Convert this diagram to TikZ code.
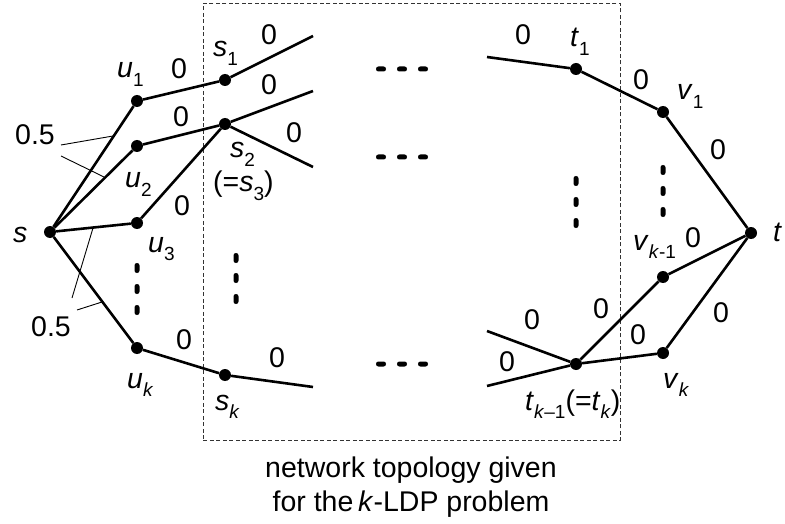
\documentclass[tikz,border=0pt]{standalone}
\usepackage{fontspec}
\setmainfont{Liberation Sans}
\newcommand\subl[1]{\raisebox{-8.5pt}{\fontsize{19}{19}\selectfont #1}}
\begin{document}
\begin{tikzpicture}[x=1pt,y=-1pt,
  vtx/.style={circle,fill=black,inner sep=0pt,minimum size=12pt},
  edge/.style={line width=2.6pt},
  lead/.style={line width=0.9pt},
  lbl/.style={inner sep=0pt,font=\fontsize{28.5}{32}\selectfont},
  wt/.style={lbl,anchor=center},
  nm/.style={lbl,anchor=base west},
  hdot/.style={fill=black,inner sep=0pt,minimum width=10pt,minimum height=5pt,rounded corners=2.4pt},
  vdot/.style={fill=black,inner sep=0pt,minimum width=5pt,minimum height=10pt,rounded corners=2.4pt},
  box/.style={draw=black!80,line width=0.8pt,dash pattern=on 4pt off 2.5pt}]
\useasboundingbox (0,0) rectangle (785,524);
% dashed box
\node[box,inner sep=0pt,minimum width=417pt,minimum height=437pt,anchor=north west] (frame) at (203,3) {};
% vertices
\node[vtx] (s) at (50,232) {};
\node[vtx] (u1) at (137,101) {};
\node[vtx] (u2) at (137,146) {};
\node[vtx] (u3) at (137,223) {};
\node[vtx] (uk) at (137,348) {};
\node[vtx] (s1) at (225,80) {};
\node[vtx] (s2) at (225,124) {};
\node[vtx] (sk) at (225,375) {};
\node[vtx] (t1) at (576,69) {};
\node[vtx] (tk1) at (576,364) {};
\node[vtx] (v1) at (663,112) {};
\node[vtx] (vk1) at (663,277) {};
\node[vtx] (vk) at (663,353) {};
\node[vtx] (t) at (751,233) {};
% free ends
\coordinate (e1) at (313,36);
\coordinate (e2) at (313,91);
\coordinate (e3) at (313,167);
\coordinate (e4) at (313,387);
\coordinate (f1) at (487,57);
\coordinate (f2) at (487,331);
\coordinate (f3) at (487,386);
% edges
\draw[edge] (s) -- (u1);
\draw[edge] (s) -- (u2);
\draw[edge] (s) -- (u3);
\draw[edge] (s) -- (uk);
\draw[edge] (u1) -- (s1);
\draw[edge] (u2) -- (s2);
\draw[edge] (u3) -- (s2);
\draw[edge] (uk) -- (sk);
\draw[edge] (s1) -- (e1);
\draw[edge] (s2) -- (e2);
\draw[edge] (s2) -- (e3);
\draw[edge] (sk) -- (e4);
\draw[edge] (f1) -- (t1);
\draw[edge] (f2) -- (tk1);
\draw[edge] (f3) -- (tk1);
\draw[edge] (t1) -- (v1);
\draw[edge] (tk1) -- (vk1);
\draw[edge] (tk1) -- (vk);
\draw[edge] (v1) -- (t);
\draw[edge] (vk1) -- (t);
\draw[edge] (vk) -- (t);
% 0.5 labels and leaders
\node[wt] (h1) at (35,135) {0.5};
\node[wt] (h2) at (51,327) {0.5};
\coordinate (a1) at (61,145);
\coordinate (a2) at (113,136);
\coordinate (a3) at (61,156);
\coordinate (a4) at (104,177);
\coordinate (b1) at (72,298);
\coordinate (b2) at (93,228);
\coordinate (b3) at (77,310);
\coordinate (b4) at (102,302);
\draw[lead] (a1) -- (a2);
\draw[lead] (a3) -- (a4);
\draw[lead] (b1) -- (b2);
\draw[lead] (b3) -- (b4);
% vertex names
\node[nm] (ls) at (13,242) {\textit{s}};
\node[nm] (lu1) at (117,78) {\textit{u}\subl{1}};
\node[nm] (lu2) at (125,188) {\textit{u}\subl{2}};
\node[nm] (lu3) at (148,252) {\textit{u}\subl{3}};
\node[nm] (luk) at (127,388) {\textit{u}\subl{\textit{k}}};
\node[nm] (ls1) at (213,57) {\textit{s}\subl{1}};
\node[nm] (ls2) at (230,158) {\textit{s}\subl{2}};
\node[nm] (ls3) at (213,192) {(=\textit{s}\subl{3})};
\node[nm] (lsk) at (215,410) {\textit{s}\subl{\textit{k}}};
\node[nm] (lt1) at (570,47) {\textit{t}\subl{1}};
\node[nm] (lv1) at (677,100) {\textit{v}\subl{1}};
\node[nm] (lt) at (773,241) {\textit{t}};
\node[nm] (lvk1) at (633,250) {\textit{v}\subl{\textit{k}-1}};
\node[nm] (lvk) at (663,388) {\textit{v}\subl{\textit{k}}};
\node[nm] (ltk) at (525,410) {\textit{t}\subl{\textit{k}--1}(=\textit{t}\subl{\textit{k}})};
% weights
\node[wt] (w1) at (179,69) {0};
\node[wt] (w2) at (181,117) {0};
\node[wt] (w3) at (182,206) {0};
\node[wt] (w4) at (184,340) {0};
\node[wt] (w5) at (269,35) {0};
\node[wt] (w6) at (269,85) {0};
\node[wt] (w7) at (294,133) {0};
\node[wt] (w8) at (277,358) {0};
\node[wt] (w9) at (523,35) {0};
\node[wt] (w10) at (641,80) {0};
\node[wt] (w11) at (718,150) {0};
\node[wt] (w12) at (693,238) {0};
\node[wt] (w13) at (601,309) {0};
\node[wt] (w14) at (638,335) {0};
\node[wt] (w15) at (721,313) {0};
\node[wt] (w16) at (532,320) {0};
\node[wt] (w17) at (507,362) {0};
% ellipsis dots
\foreach \y [count=\r] in {69,157,364}{
  \foreach \x [count=\c] in {381,402,423}{
    \node[hdot] (hd\r\c) at (\x,\y) {};
  }
}
\foreach \y [count=\c] in {268,289,310}{\node[vdot] (vu\c) at (137,\y) {};}
\foreach \y [count=\c] in {258,278,299}{\node[vdot] (vs\c) at (236,\y) {};}
\foreach \y [count=\c] in {181,202,223}{\node[vdot] (vt\c) at (576,\y) {};}
\foreach \y [count=\c] in {170,191,212}{\node[vdot] (vv\c) at (663,\y) {};}
% caption
\node[lbl,anchor=base] (cap1) at (411,477) {network topology given};
\node[lbl,anchor=base] (cap2) at (411,511) {for the\,\textit{k}-LDP problem};
\end{tikzpicture}
\end{document}
